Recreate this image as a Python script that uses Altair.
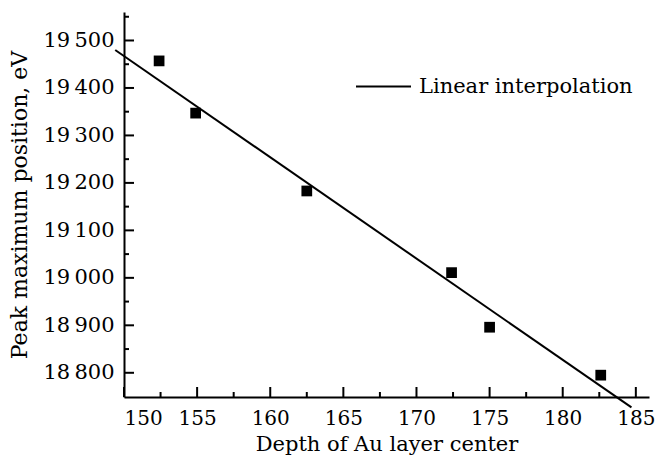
import altair as alt
import pandas as pd

# data
depth = [152.4, 154.9, 162.5, 172.4, 175.0, 182.6]
peak = [19457, 19347, 19183, 19011, 18896, 18795]

fit_depth = [149.4, 184.7]
fit_peak = [19480, 18727]
fit_name = ["Linear interpolation", "Linear interpolation"]

x_major = [150, 155, 160, 165, 170, 175, 180, 185]
x_minor = [152.5, 157.5, 162.5, 167.5, 172.5, 177.5, 182.5]
y_major = [18800, 18900, 19000, 19100, 19200, 19300, 19400, 19500]
y_minor = [18850, 18950, 19050, 19150, 19250, 19350, 19450, 19550]

x_domain = [150, 185.9]
y_domain = [18749, 19560]

W, H = 525, 385
FONT = "DejaVu Serif"

pts = pd.DataFrame({"depth": depth, "peak": peak})
fit = pd.DataFrame({"depth": fit_depth, "peak": fit_peak, "series": fit_name})

xs = alt.Scale(domain=x_domain, nice=False, zero=False)
ys = alt.Scale(domain=y_domain, nice=False, zero=False)

label_expr = "slice(toString(datum.value),0,2) + '\u2009' + slice(toString(datum.value),2)"

x_axis = alt.Axis(
    title="Depth of Au layer center", values=x_major, ticks=False, grid=False,
    domainColor="black", domainWidth=2, labelFont=FONT, labelFontSize=20,
    labelColor="black", labelPadding=11, titleFont=FONT, titleFontSize=21,
    titleFontWeight="normal", titleColor="black", titleBaseline="alphabetic",
    titleY=53,
)
y_axis = alt.Axis(
    title="Peak maximum position, eV", values=y_major, ticks=False, grid=False,
    domainColor="black", domainWidth=2, labelFont=FONT, labelFontSize=21,
    labelColor="black", labelPadding=10, labelExpr=label_expr,
    titleFont=FONT, titleFontSize=22, titleFontWeight="normal",
    titleColor="black", titlePadding=12,
)

points = alt.Chart(pts).mark_square(size=115, color="black", opacity=1).encode(
    x=alt.X("depth:Q", scale=xs, axis=x_axis),
    y=alt.Y("peak:Q", scale=ys, axis=y_axis),
)

line = alt.Chart(fit).mark_line(strokeWidth=2, clip=False).encode(
    x=alt.X("depth:Q", scale=xs),
    y=alt.Y("peak:Q", scale=ys),
    color=alt.Color(
        "series:N",
        scale=alt.Scale(range=["black"]),
        legend=alt.Legend(
            title=None, orient="none", legendX=231, legendY=46,
            symbolType="stroke", symbolSize=3025, symbolStrokeWidth=2,
            symbolStrokeColor="black", labelFont=FONT, labelFontSize=21,
            labelColor="black", labelOffset=7, labelLimit=0, padding=0,
        ),
    ),
)

xmaj = alt.Chart(pd.DataFrame({"v": x_major})).mark_rule(color="black", strokeWidth=2).encode(
    x=alt.X("v:Q", scale=xs), y=alt.value(H), y2=alt.value(H - 10))
xmin = alt.Chart(pd.DataFrame({"v": x_minor})).mark_rule(color="black", strokeWidth=2).encode(
    x=alt.X("v:Q", scale=xs), y=alt.value(H), y2=alt.value(H - 5))
ymaj = alt.Chart(pd.DataFrame({"v": y_major})).mark_rule(color="black", strokeWidth=2).encode(
    y=alt.Y("v:Q", scale=ys), x=alt.value(0), x2=alt.value(10))
ymin = alt.Chart(pd.DataFrame({"v": y_minor})).mark_rule(color="black", strokeWidth=2).encode(
    y=alt.Y("v:Q", scale=ys), x=alt.value(0), x2=alt.value(5))

chart = alt.layer(points, line, xmaj, xmin, ymaj, ymin).properties(
    width=W, height=H,
    autosize=alt.AutoSizeParams(type="none"),
    padding={"left": 116, "top": 4, "right": 7, "bottom": 59},
    background="white",
).configure(font=FONT).configure_view(stroke=None)

chart.save("out.html", embed_options={"renderer": "svg", "actions": False})
